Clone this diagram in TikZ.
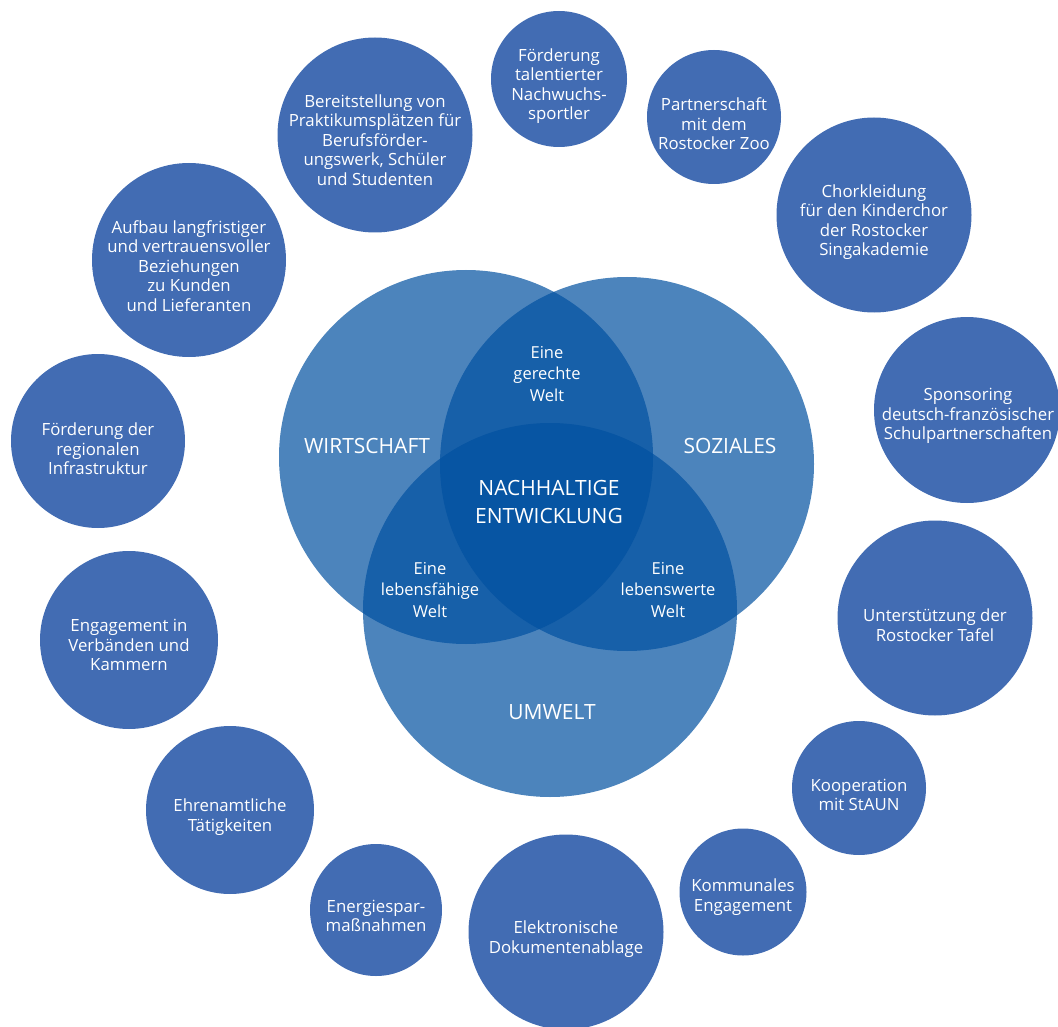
\documentclass[tikz,border=0pt]{standalone}
\usepackage{fontspec}
\setmainfont{Open Sans}
\usepackage{tikz}
\definecolor{kreisblau}{RGB}{66,108,179}
\definecolor{vennblau}{RGB}{0,80,160}

\begin{document}
\begin{tikzpicture}[x=1pt,y=-1pt,
	punkt/.style={circle,fill=kreisblau,inner sep=0pt,minimum size=#1},
	venn/.style={circle,fill=vennblau,fill opacity=0.7,inner sep=0pt,minimum size=374pt},
	klein/.style={text=white,align=center,font=\fontsize{16.8}{19.5}\selectfont},
	mitte/.style={text=white,align=center,font=\fontsize{16.5}{21.5}\selectfont},
	gross/.style={text=white,align=center,font=\fontsize{21}{28}\selectfont}]
	\useasboundingbox (0,0) rectangle (1058,1027);
	\clip (0,0) rectangle (1058,1027);
	% die drei Kreise
	\node[venn] (c1) at (466,457) {};
	\node[venn] (c2) at (627,464) {};
	\node[venn] (c3) at (550,610) {};
	\node[gross] (w) at (367,446) {WIRTSCHAFT};
	\node[gross] (s) at (730,446) {SOZIALES};
	\node[gross] (u) at (552,712) {UMWELT};
	\node[gross] (n) at (549,502) {NACHHALTIGE\\ENTWICKLUNG};
	\node[mitte] (e1) at (547,374) {Eine\\gerechte\\Welt};
	\node[mitte] (e2) at (430,590) {Eine\\lebensfähige\\Welt};
	\node[mitte] (e3) at (668,590) {Eine\\lebenswerte\\Welt};
	% aussen
	\node[punkt=136pt] (v1) at (559,79) {};
	\node[klein] (t1) at (559,86) {Förderung\\talentierter\\Nachwuchs-\\sportler};
	\node[punkt=134pt] (v2) at (714,117) {};
	\node[klein] (t2) at (714,124) {Partnerschaft\\mit dem\\Rostocker Zoo};
	\node[punkt=195pt] (v3) at (874,215) {};
	\node[klein] (t3) at (874,222) {Chorkleidung\\für den Kinderchor\\der Rostocker\\Singakademie};
	\node[punkt=186pt] (v4) at (967,410) {};
	\node[klein] (t4) at (968,416) {Sponsoring\\deutsch-französischer\\Schulpartnerschaften};
	\node[punkt=195pt] (v5) at (935,618) {};
	\node[klein] (t5) at (935,625) {Unterstützung der\\Rostocker Tafel};
	\node[punkt=134pt] (v6) at (859,788) {};
	\node[klein] (t6) at (859,795) {Kooperation\\mit StAUN};
	\node[punkt=127pt] (v7) at (743,892) {};
	\node[klein] (t7) at (743,897) {Kommunales\\Engagement};
	\node[punkt=195pt] (v8) at (566,932) {};
	\node[klein] (t8) at (566,939) {Elektronische\\Dokumentenablage};
	\node[punkt=132pt] (v9) at (376,910) {};
	\node[klein] (t9) at (376,916) {Energiespar-\\maßnahmen};
	\node[punkt=168pt] (v10) at (230,810) {};
	\node[klein] (t10) at (230,817) {Ehrenamtliche\\Tätigkeiten};
	\node[punkt=178pt] (v11) at (129,640) {};
	\node[klein] (t11) at (129,645) {Engagement in\\Verbänden und\\Kammern};
	\node[punkt=174pt] (v12) at (98,441) {};
	\node[klein] (t12) at (98,449) {Förderung der\\regionalen\\Infrastruktur};
	\node[punkt=194pt] (v13) at (189,260) {};
	\node[klein] (t13) at (189,266) {Aufbau langfristiger\\und vertrauensvoller\\Beziehungen\\zu Kunden\\und Lieferanten};
	\node[punkt=195pt] (v14) at (375,135) {};
	\node[klein] (t14) at (375,140) {Bereitstellung von\\Praktikumsplätzen für\\Berufsförder-\\ungswerk, Schüler\\und Studenten};
\end{tikzpicture}
\end{document}
